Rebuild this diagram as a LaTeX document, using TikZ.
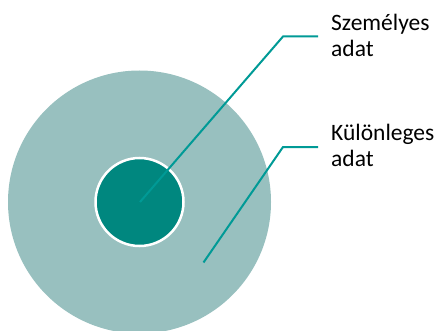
\documentclass[tikz,border=0pt]{standalone}
\usepackage{fontspec}
\setmainfont{Carlito}
\definecolor{outerc}{HTML}{98C0BF}
\definecolor{innerc}{HTML}{00877F}
\definecolor{linec}{HTML}{009A96}
\tikzset{
  leader/.style={draw=linec, line width=2pt},
  lbl/.style={anchor=base west, inner sep=0pt, align=left, font=\fontsize{23.5}{26}\selectfont, text=black}
}
\begin{document}
\begin{tikzpicture}[x=1pt,y=-1pt]
\useasboundingbox (0,0) rectangle (438,331);
\node[circle, fill=outerc, minimum size=263pt, inner sep=0pt] (outer) at (139.5,202) {};
\node[circle, fill=innerc, draw=white, line width=2.5pt, minimum size=88pt, inner sep=0pt] (inner) at (139.5,202) {};
\coordinate (s1) at (140,202);
\coordinate (k1) at (283,36.5);
\coordinate (e1) at (318,36.5);
\coordinate (s2) at (203.5,262.5);
\coordinate (k2) at (283,147);
\coordinate (e2) at (318,147);
\draw[leader] (s1) -- (k1) -- (e1);
\draw[leader] (s2) -- (k2) -- (e2);
\node[lbl] (l1) at (331,56.5) {Személyes\\adat};
\node[lbl] (l2) at (331,166) {Különleges\\adat};
\end{tikzpicture}
\end{document}
